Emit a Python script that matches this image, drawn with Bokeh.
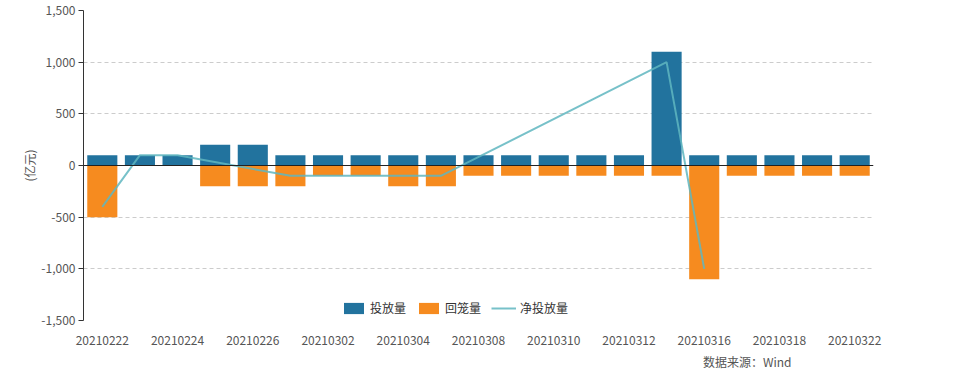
from bokeh.plotting import figure
from bokeh.models import (ColumnDataSource, FactorRange, Range1d, Span, Legend, LegendItem,
                          NumeralTickFormatter, FixedTicker, Title, CustomJSTickFormatter)
from bokeh.embed import file_html
from bokeh.resources import INLINE

dates = ["20210222", "20210223", "20210224", "20210225", "20210226", "20210301", "20210302",
         "20210303", "20210304", "20210305", "20210308", "20210309", "20210310", "20210311",
         "20210312", "20210315", "20210316", "20210317", "20210318", "20210319", "20210322"]
injection = [100, 100, 100, 200, 200, 100, 100, 100, 100, 100, 100, 100, 100, 100, 100,
             1100, 100, 100, 100, 100, 100]
withdrawal = [-500, 0, 0, -200, -200, -200, -100, -100, -200, -200, -100, -100, -100, -100,
              -100, -100, -1100, -100, -100, -100, -100]
net_injection = [-400, 100, 100, None, None, -100, None, None, -100, -100, None, None, None,
                 None, None, 1000, -1000, None, None, None, None]
y_ticks = [-1500, -1000, -500, 0, 500, 1000, 1500]

FONT = "Noto Sans CJK SC"
BLUE = "#22739e"
ORANGE = "#f68b1f"
TEAL = "#5fb6bf"

p = figure(width=967, height=377, x_range=FactorRange(*dates), y_range=Range1d(-1500, 1500),
           output_backend="svg", toolbar_location=None,
           min_border_left=83, min_border_right=94, min_border_top=10, min_border_bottom=57)
p.outline_line_color = None

src = ColumnDataSource(dict(x=dates, inj=injection, wd=withdrawal))
r_inj = p.vbar(x="x", top="inj", bottom=0, width=0.8, source=src, fill_color=BLUE, line_color=None)
r_wd = p.vbar(x="x", top="wd", bottom=0, width=0.8, source=src, fill_color=ORANGE, line_color=None)

nx = [d for d, v in zip(dates, net_injection) if v is not None]
ny = [v for v in net_injection if v is not None]
r_line = p.line(nx, ny, line_color=TEAL, line_width=2, line_alpha=0.85)

p.add_layout(Span(location=0, dimension="width", line_color="#222222", line_width=1))

# axes
p.xgrid.grid_line_color = None
p.ygrid.grid_line_color = "#cccccc"
p.ygrid.grid_line_dash = "4 3"
p.yaxis.ticker = FixedTicker(ticks=y_ticks)
p.yaxis.formatter = NumeralTickFormatter(format="0,0")
p.yaxis.axis_line_color = "#333333"
p.yaxis.major_tick_line_color = "#333333"
p.yaxis.major_tick_out = 5
p.yaxis.major_tick_in = 0
p.yaxis.minor_tick_line_color = None
p.yaxis.major_label_standoff = 3
p.yaxis.major_label_text_font = FONT
p.yaxis.major_label_text_font_size = "12px"
p.yaxis.major_label_text_color = "#555555"
p.yaxis.axis_label = "(亿元)"
p.yaxis.axis_label_text_font = FONT
p.yaxis.axis_label_text_font_size = "12px"
p.yaxis.axis_label_text_font_style = "normal"
p.yaxis.axis_label_text_color = "#555555"
p.yaxis.axis_label_standoff = 0

p.xaxis.axis_line_color = None
p.xaxis.major_tick_line_color = None
p.xaxis.minor_tick_line_color = None
p.xaxis.major_label_standoff = 4
p.xaxis.major_label_text_font = FONT
p.xaxis.major_label_text_font_size = "12px"
p.xaxis.major_label_text_color = "#555555"
p.xaxis.formatter = CustomJSTickFormatter(code="return (index % 2 == 0) ? tick : ' ';")

legend = Legend(items=[LegendItem(label="投放量", renderers=[r_inj]),
                       LegendItem(label="回笼量", renderers=[r_wd]),
                       LegendItem(label="净投放量", renderers=[r_line])],
                orientation="horizontal", location=(258, 4), padding=0, margin=0,
                spacing=10, label_standoff=4, glyph_width=25, glyph_height=14,
                label_text_font=FONT, label_text_font_size="12px", label_text_color="#333333",
                border_line_color=None, background_fill_alpha=0)
p.add_layout(legend, "center")

source_title = Title(text="数据来源：Wind", align="right", offset=82, standoff=0,
                     text_font=FONT, text_font_size="12px", text_font_style="normal",
                     text_color="#555555")
p.add_layout(source_title, "below")

open("out.html", "w").write(file_html(p, INLINE))
